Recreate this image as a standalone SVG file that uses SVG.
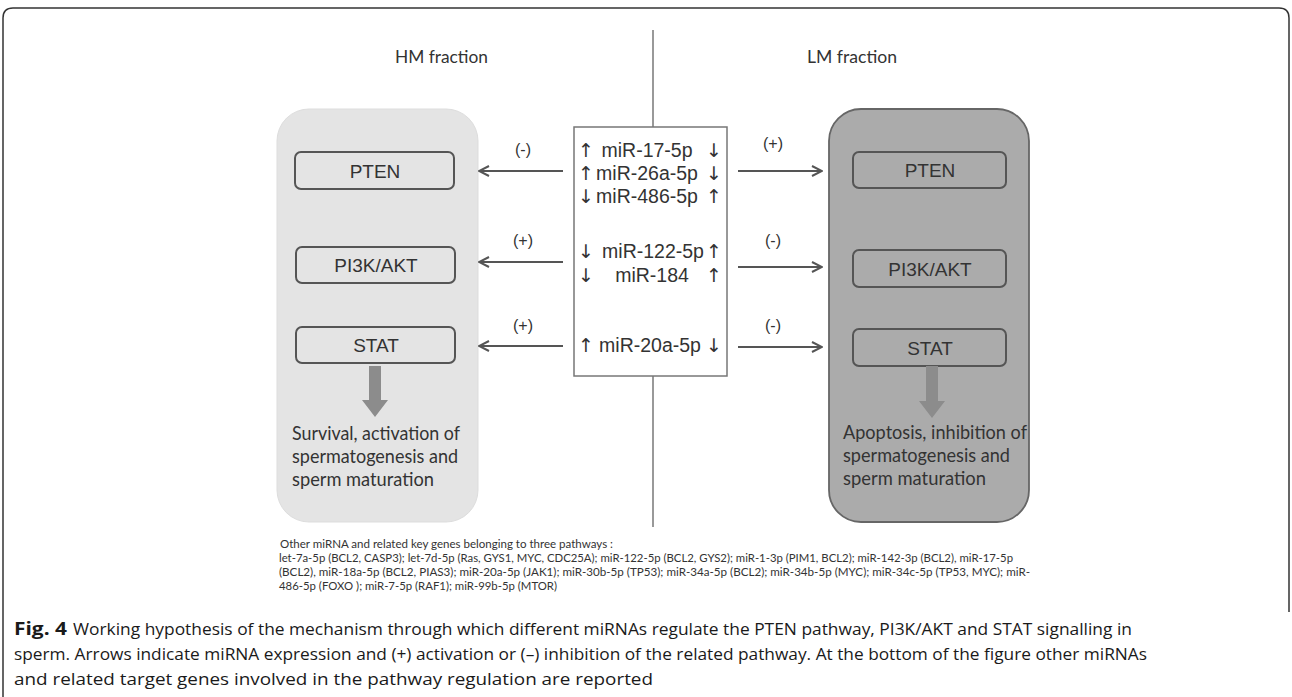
<svg xmlns="http://www.w3.org/2000/svg" width="1292" height="697" viewBox="0 0 1292 697">
<defs>
<style>
.frame{fill:none;stroke:#333;stroke-width:1.5}
.axis{stroke:#777;stroke-width:1.5}
.panelL{fill:#e4e4e4;stroke:#ddd;stroke-width:1}
.panelR{fill:#ababab;stroke:#666;stroke-width:1.8}
.boxL{fill:#e4e4e4;stroke:#555;stroke-width:2}
.boxR{fill:#ababab;stroke:#555;stroke-width:2}
.center{fill:#fff;stroke:#777;stroke-width:1.5}
.lbl{font-family:"Liberation Sans",Arial,sans-serif;font-size:19px;fill:#333;text-anchor:middle}
.mir{font-family:"Liberation Sans",Arial,sans-serif;font-size:19.5px;fill:#333;text-anchor:middle}
.arr{font-family:"DejaVu Sans","Liberation Sans",sans-serif;font-size:19px;fill:#333;text-anchor:middle}
.sign{font-family:"Liberation Sans",Arial,sans-serif;font-size:16px;fill:#333;text-anchor:middle}
.head{font-family:Lato,"Open Sans",sans-serif;font-size:17px;fill:#333}
.out{font-family:Lato,"Open Sans",sans-serif;font-size:19px;fill:#333}
.small{font-family:Lato,"Open Sans",sans-serif;font-size:11.5px;fill:#333}
.cap{font-family:"Open Sans","Noto Sans",sans-serif;font-size:17px;fill:#1a1a1a}
.conn{stroke:#555;stroke-width:2;fill:none;marker-end:url(#ah)}
.fat{fill:#8c8c8c}
</style>
<marker id="ah" viewBox="0 0 12 12" refX="11" refY="6" markerWidth="12" markerHeight="12" markerUnits="userSpaceOnUse" orient="auto">
<path d="M1,1 L11,6 L1,11" fill="none" stroke="#555" stroke-width="2"/>
</marker>
</defs>
<rect width="1292" height="697" fill="#fff"/>
<path class="frame" d="M3,700 L3,18 Q3,8 13,8 L1279,8 Q1289,8 1289,18 L1289,612"/>
<line class="axis" x1="653" y1="30" x2="653" y2="527"/>
<text class="head" x="395" y="63" textLength="93" lengthAdjust="spacingAndGlyphs">HM fraction</text>
<text class="head" x="807" y="63" textLength="90" lengthAdjust="spacingAndGlyphs">LM fraction</text>

<g id="hm-panel">
<rect class="panelL" x="277" y="109" width="201" height="413" rx="32"/>
</g>
<g id="lm-panel">
<rect class="panelR" x="829" y="109" width="200" height="413" rx="32"/>
</g>

<g id="hm-pten"><rect class="boxL" x="295" y="152" width="159" height="37" rx="6"/><text class="lbl" x="375" y="178">PTEN</text></g>
<g id="hm-pi3k"><rect class="boxL" x="296" y="247" width="159" height="36" rx="6"/><text class="lbl" x="376" y="272">PI3K/AKT</text></g>
<g id="hm-stat"><rect class="boxL" x="296" y="327" width="159" height="36" rx="6"/><text class="lbl" x="376" y="352">STAT</text></g>
<g id="hm-out">
<path class="fat" d="M369,366 L381,366 L381,400 L388,400 L375,417 L362,400 L369,400 Z"/>
<text class="out" x="292" y="440" textLength="168" lengthAdjust="spacingAndGlyphs">Survival, activation of</text>
<text class="out" x="292" y="463" textLength="166" lengthAdjust="spacingAndGlyphs">spermatogenesis and</text>
<text class="out" x="292" y="486" textLength="142" lengthAdjust="spacingAndGlyphs">sperm maturation</text>
</g>

<g id="lm-pten"><rect class="boxR" x="853" y="152" width="153" height="36" rx="6"/><text class="lbl" x="930" y="177">PTEN</text></g>
<g id="lm-pi3k"><rect class="boxR" x="853" y="250" width="153" height="37" rx="6"/><text class="lbl" x="930" y="276">PI3K/AKT</text></g>
<g id="lm-stat"><rect class="boxR" x="853" y="329" width="153" height="37" rx="6"/><text class="lbl" x="930" y="355">STAT</text></g>
<g id="lm-out">
<path class="fat" d="M926,366 L938,366 L938,401 L945,401 L932,418 L919,401 L926,401 Z"/>
<text class="out" x="843" y="439" textLength="184" lengthAdjust="spacingAndGlyphs">Apoptosis, inhibition of</text>
<text class="out" x="843" y="462" textLength="167" lengthAdjust="spacingAndGlyphs">spermatogenesis and</text>
<text class="out" x="843" y="485" textLength="143" lengthAdjust="spacingAndGlyphs">sperm maturation</text>
</g>

<g id="mirna-box">
<rect class="center" x="574" y="127" width="153" height="249"/>
<text class="arr" x="586" y="157">↑</text><text class="mir" x="647" y="157">miR-17-5p</text><text class="arr" x="714" y="157">↓</text>
<text class="arr" x="586" y="180">↑</text><text class="mir" x="647" y="180">miR-26a-5p</text><text class="arr" x="714" y="180">↓</text>
<text class="arr" x="586" y="203">↓</text><text class="mir" x="647" y="203">miR-486-5p</text><text class="arr" x="714" y="203">↑</text>
<text class="arr" x="586" y="258">↓</text><text class="mir" x="653" y="258">miR-122-5p</text><text class="arr" x="714" y="258">↑</text>
<text class="arr" x="586" y="282">↓</text><text class="mir" x="652" y="282">miR-184</text><text class="arr" x="714" y="282">↑</text>
<text class="arr" x="586" y="352">↑</text><text class="mir" x="650" y="352">miR-20a-5p</text><text class="arr" x="714" y="352">↓</text>
</g>

<g id="connectors">
<line class="conn" x1="563" y1="171" x2="479" y2="171"/>
<line class="conn" x1="563" y1="262" x2="479" y2="262"/>
<line class="conn" x1="563" y1="346" x2="479" y2="346"/>
<line class="conn" x1="738" y1="171" x2="822" y2="171"/>
<line class="conn" x1="738" y1="267" x2="822" y2="267"/>
<line class="conn" x1="738" y1="347" x2="822" y2="347"/>
<text class="sign" x="523" y="155">(-)</text>
<text class="sign" x="523" y="246">(+)</text>
<text class="sign" x="523" y="331">(+)</text>
<text class="sign" x="773" y="149">(+)</text>
<text class="sign" x="773" y="246">(-)</text>
<text class="sign" x="773" y="331">(-)</text>
</g>

<g id="notes">
<text class="small" x="280" y="548" textLength="333" lengthAdjust="spacingAndGlyphs">Other miRNA  and related key genes belonging  to three pathways :</text>
<text class="small" x="279" y="562" textLength="734" lengthAdjust="spacingAndGlyphs">let-7a-5p  (BCL2, CASP3); let-7d-5p (Ras, GYS1, MYC, CDC25A); miR-122-5p (BCL2, GYS2); miR-1-3p (PIM1, BCL2); miR-142-3p (BCL2), miR-17-5p</text>
<text class="small" x="279" y="576" textLength="751" lengthAdjust="spacingAndGlyphs">(BCL2),  miR-18a-5p (BCL2, PIAS3); miR-20a-5p (JAK1); miR-30b-5p (TP53); miR-34a-5p (BCL2); miR-34b-5p (MYC); miR-34c-5p (TP53, MYC); miR-</text>
<text class="small" x="279" y="590" textLength="278" lengthAdjust="spacingAndGlyphs">486-5p (FOXO ); miR-7-5p (RAF1); miR-99b-5p (MTOR)</text>
</g>

<g id="caption">
<text class="cap" x="14" y="635" font-weight="bold" textLength="53" lengthAdjust="spacingAndGlyphs">Fig. 4</text>
<text class="cap" x="73" y="635" textLength="1059" lengthAdjust="spacingAndGlyphs">Working hypothesis of the mechanism through which different miRNAs regulate the PTEN pathway, PI3K/AKT and STAT signalling in</text>
<text class="cap" x="14" y="660" textLength="1133" lengthAdjust="spacingAndGlyphs">sperm. Arrows indicate miRNA expression and (+) activation or (–) inhibition of the related pathway. At the bottom of the figure other miRNAs</text>
<text class="cap" x="14" y="685" textLength="639" lengthAdjust="spacingAndGlyphs">and related target genes involved in the pathway regulation are reported</text>
</g>
</svg>
